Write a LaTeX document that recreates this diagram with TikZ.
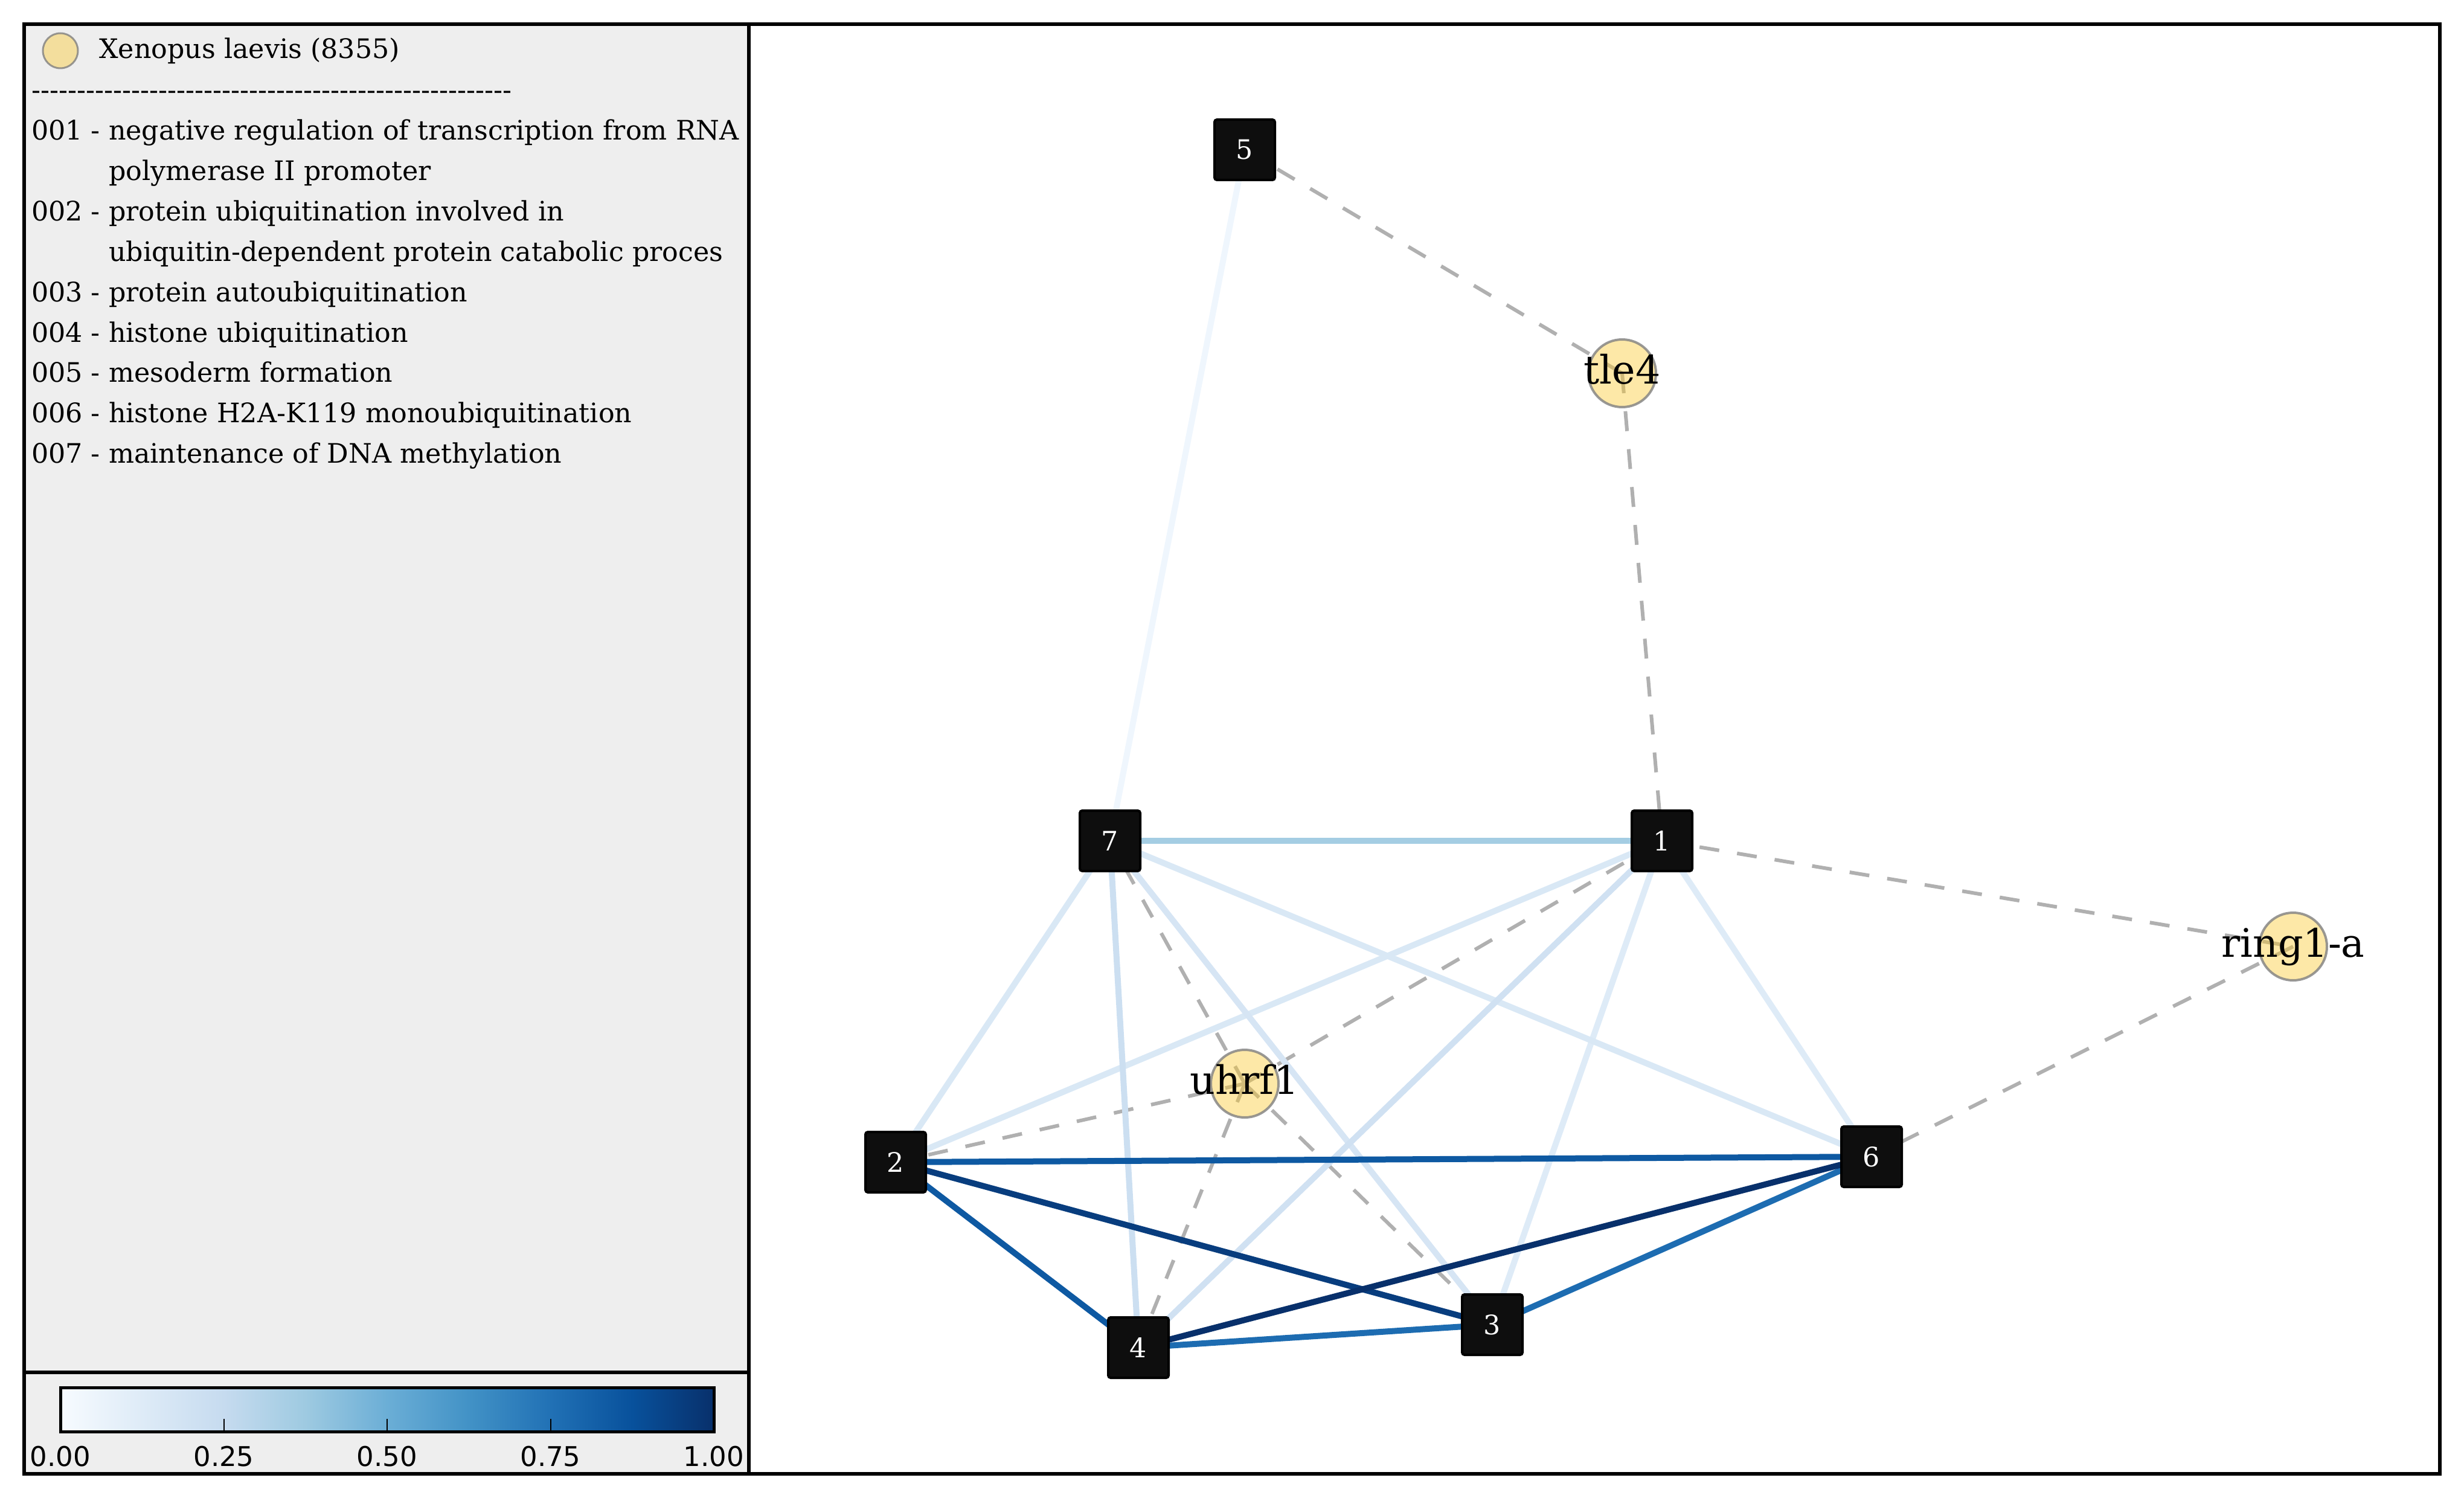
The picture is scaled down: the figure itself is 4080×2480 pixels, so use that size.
\documentclass[tikz,border=0pt]{standalone}
\usepackage{fontspec}
\setmainfont{DejaVu Serif}[Ligatures=TeXOff]
\newfontfamily\ticksans{DejaVu Sans}
\pgfdeclarelayer{edges}
\pgfsetlayers{edges,main}
\definecolor{blues0}{HTML}{F7FBFF}
\definecolor{blues1}{HTML}{DEEBF7}
\definecolor{blues2}{HTML}{C6DBEF}
\definecolor{blues3}{HTML}{9ECAE1}
\definecolor{blues4}{HTML}{6BAED6}
\definecolor{blues5}{HTML}{4292C6}
\definecolor{blues6}{HTML}{2171B5}
\definecolor{blues7}{HTML}{08519C}
\definecolor{blues8}{HTML}{08306B}
\definecolor{panelgray}{HTML}{EEEEEE}
\definecolor{genefill}{RGB}{250,201,45}
\definecolor{termfill}{RGB}{14,14,14}
\definecolor{linkgray}{RGB}{176,176,176}
\tikzset{
  term/.style={rectangle, rounded corners=4pt, fill=termfill, draw=black,
    line width=4pt, minimum size=100pt, inner sep=0pt, text=white,
    font=\fontsize{44.4}{54}\selectfont},
  gene/.style={circle, fill=genefill, fill opacity=0.42, draw=gray,
    draw opacity=0.8, line width=4pt, minimum size=112pt, inner sep=0pt},
  genelabel/.style={inner sep=0pt, text height=49pt, text depth=15pt,
    text opacity=1, font=\fontsize{65}{78}\selectfont},
  homolog/.style={draw=linkgray, line width=6pt, dash pattern=on 33pt off 30pt},
  termlink/.style={line width=10pt},
  legtext/.style={anchor=base west, inner sep=0pt, font=\fontsize{44.4}{54}\selectfont},
  ticklabel/.style={anchor=base, inner sep=0pt, font=\ticksans\fontsize{45}{54}\selectfont}
}

\begin{document}
\begin{tikzpicture}[x=1pt,y=-1pt]
  \useasboundingbox (0,0) rectangle (4080,2480);
  \fill[panelgray] (40,40) rectangle (1240,2440);

  \node[term] (t5) at (2061,248) {5};
  \node[term] (t7) at (1838,1392) {7};
  \node[term] (t1) at (2752,1392) {1};
  \node[term] (t2) at (1483,1924) {2};
  \node[term] (t6) at (3099,1915) {6};
  \node[term] (t3) at (2471,2193) {3};
  \node[term] (t4) at (1885,2231) {4};
  \node[gene, label={[genelabel]center:tle4}] (tle4) at (2686,618) {};
  \node[gene, label={[genelabel]center:ring1-a}] (ring1a) at (3797,1567) {};
  \node[gene, label={[genelabel]center:uhrf1}] (uhrf1) at (2061,1794) {};

  \begin{pgfonlayer}{edges}
    \draw[homolog] (t5.center) -- (tle4.center);
    \draw[homolog] (tle4.center) -- (t1.center);
    \draw[homolog] (t1.center) -- (ring1a.center);
    \draw[homolog] (ring1a.center) -- (t6.center);
    \draw[homolog] (uhrf1.center) -- (t7.center);
    \draw[homolog] (uhrf1.center) -- (t1.center);
    \draw[homolog] (uhrf1.center) -- (t2.center);
    \draw[homolog] (uhrf1.center) -- (t4.center);
    \draw[homolog] (uhrf1.center) -- (t3.center);
    \draw[termlink, blues0!70!blues1] (t7.center) -- (t5.center);
    \draw[termlink, blues1] (t1.center) -- (t3.center);
    \draw[termlink, blues1] (t1.center) -- (t6.center);
    \draw[termlink, blues1!80!blues2] (t7.center) -- (t2.center);
    \draw[termlink, blues1!80!blues2] (t1.center) -- (t2.center);
    \draw[termlink, blues1!80!blues2] (t7.center) -- (t6.center);
    \draw[termlink, blues1!65!blues2] (t7.center) -- (t3.center);
    \draw[termlink, blues2!60!blues1] (t1.center) -- (t4.center);
    \draw[termlink, blues2!75!blues1] (t7.center) -- (t4.center);
    \draw[termlink, blues3!85!blues2] (t7.center) -- (t1.center);
    \draw[termlink, blues6!85!blues7] (t4.center) -- (t3.center);
    \draw[termlink, blues6!85!blues7] (t3.center) -- (t6.center);
    \draw[termlink, blues7!75!blues6] (t2.center) -- (t6.center);
    \draw[termlink, blues7!75!blues6] (t2.center) -- (t4.center);
    \draw[termlink, blues8!60!blues7] (t2.center) -- (t3.center);
    \draw[termlink, blues8] (t4.center) -- (t6.center);
  \end{pgfonlayer}

  \node[gene, minimum size=58pt, line width=3pt] (species) at (100,84) {};
  \node[legtext] (speciesname) at (164,97) {Xenopus laevis (8355)};
  \node[legtext] (rule) at (52,165) {-----------------------------------------------------};
  \foreach \txt [count=\i from 0] in {
      001 - negative regulation of transcription from RNA,
      \hspace*{128pt}polymerase II promoter,
      002 - protein ubiquitination involved in,
      \hspace*{128pt}ubiquitin-dependent protein catabolic proces,
      003 - protein autoubiquitination,
      004 - histone ubiquitination,
      005 - mesoderm formation,
      006 - histone H2A-K119 monoubiquitination,
      007 - maintenance of DNA methylation}
    \node[legtext] (go\i) at (52,{232+66.8*\i}) {\txt};

  \foreach \a/\b [count=\k from 0] in {blues0/blues1, blues1/blues2, blues2/blues3,
      blues3/blues4, blues4/blues5, blues5/blues6, blues6/blues7, blues7/blues8}
    \shade[left color=\a, right color=\b] ({100+135.25*\k},2297) rectangle ({100+135.25*(\k+1)},2370);
  \draw[line width=5pt] (100,2297) rectangle (1182,2370);
  \foreach \v [count=\k from 0] in {0.00,0.25,0.50,0.75,1.00} {
    \draw[line width=2pt] ({100+270.5*\k},2370) -- ++(0,-21);
    \node[ticklabel] (tick\k) at ({100+270.5*\k},2427) {\v};
  }

  \draw[line width=6pt] (40,40) rectangle (4040,2440);
  \draw[line width=6pt] (1240,40) -- (1240,2440);
  \draw[line width=6pt] (40,2272) -- (1240,2272);
\end{tikzpicture}
\end{document}
